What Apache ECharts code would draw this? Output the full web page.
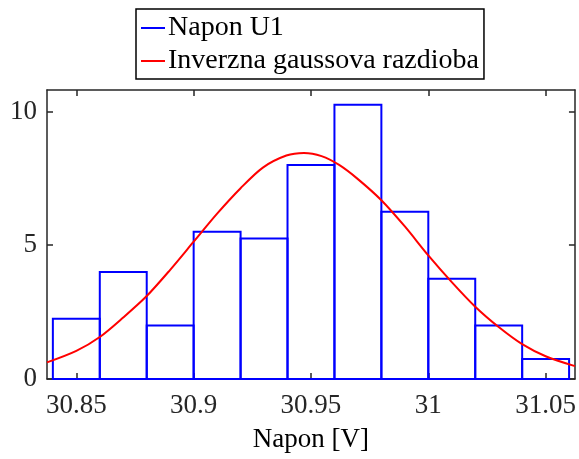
<!DOCTYPE html>
<html>
<head>
<meta charset="utf-8">
<script src="https://cdn.jsdelivr.net/npm/echarts@6/dist/echarts.min.js"></script>
<style>
html,body{margin:0;padding:0;background:#fff;}
#chart{width:579px;height:459px;}
</style>
</head>
<body>
<div id="chart"></div>
<script>
// Histogram bin edges (V) and normalized heights (pdf)
const binEdges = [30.84, 30.86, 30.88, 30.90, 30.92, 30.94, 30.96, 30.98, 31.00, 31.02, 31.04, 31.06];
const binHeights = [2.25, 4.0, 2.0, 5.5, 5.25, 8.0, 10.25, 6.25, 3.75, 2.0, 0.75];

// Fitted inverse gaussian curve
const curveX = [30.8375, 30.85, 30.86, 30.87, 30.88, 30.89, 30.90, 30.91, 30.92, 30.9295, 30.9395, 30.947, 30.9545, 30.962, 30.97, 30.98, 30.99, 31.00, 31.01, 31.02, 31.03, 31.04, 31.05, 31.0625];
const curveY = [0.62, 1.05, 1.57, 2.3, 3.1, 4.08, 5.13, 6.18, 7.13, 7.9, 8.35, 8.45, 8.33, 8.0, 7.47, 6.68, 5.7, 4.62, 3.62, 2.7, 1.94, 1.3, 0.85, 0.48];

const xTicks = [30.85, 30.9, 30.95, 31, 31.05];
const yTicks = [0, 5, 10];
const seriesNames = ['Napon U1', 'Inverzna gaussova razdioba'];
const xLabel = 'Napon [V]';

const FONT = "'Liberation Serif', 'Times New Roman', serif";
const AX = '#262626';

const histData = binHeights.map((h, i) => [binEdges[i], binEdges[i + 1], h]);
const curveData = curveX.map((x, i) => [x, curveY[i]]);

const chart = echarts.init(document.getElementById('chart'), null, {renderer: 'canvas'});

const axisLineStyle = {show: true, onZero: false, lineStyle: {color: AX, width: 1.5}};
const tickStyle = (vals) => ({show: true, inside: true, length: 6, customValues: vals, lineStyle: {color: AX, width: 1.5}});

chart.setOption({
  animation: false,
  backgroundColor: '#fff',
  grid: {left: 47, right: 4, top: 90, bottom: 80, containLabel: false},
  legend: {
    orient: 'vertical',
    left: 136,
    top: 9,
    padding: [4, 5, 3, 5],
    itemGap: 3,
    itemWidth: 24,
    itemHeight: 2,
    borderColor: '#000',
    borderWidth: 1.5,
    backgroundColor: '#fff',
    textStyle: {fontFamily: FONT, fontSize: 28, color: '#000', lineHeight: 30, padding: [0, 0, 0, -2]},
    data: [
      {name: seriesNames[0], icon: 'rect', itemStyle: {color: '#0000ff', borderWidth: 0}},
      {name: seriesNames[1], icon: 'rect', itemStyle: {color: '#ff0000', borderWidth: 0}}
    ]
  },
  xAxis: [
    {
      type: 'value', min: 30.8375, max: 31.0625, position: 'bottom',
      name: xLabel, nameLocation: 'middle', nameGap: 47,
      nameTextStyle: {fontFamily: FONT, fontSize: 27, color: '#000'},
      axisLine: axisLineStyle,
      axisTick: tickStyle(xTicks),
      axisLabel: {show: true, customValues: xTicks, margin: 13, fontFamily: FONT, fontSize: 27, color: '#262626', formatter: v => String(v)},
      splitLine: {show: false}
    },
    {
      type: 'value', min: 30.8375, max: 31.0625, position: 'top',
      axisLine: axisLineStyle,
      axisTick: tickStyle(xTicks),
      axisLabel: {show: false},
      splitLine: {show: false}
    }
  ],
  yAxis: [
    {
      type: 'value', min: 0, max: 10.8, position: 'left',
      axisLine: axisLineStyle,
      axisTick: tickStyle(yTicks),
      axisLabel: {show: true, customValues: yTicks, margin: 10, fontFamily: FONT, fontSize: 27, color: '#262626'},
      splitLine: {show: false}
    },
    {
      type: 'value', min: 0, max: 10.8, position: 'right',
      axisLine: axisLineStyle,
      axisTick: tickStyle(yTicks),
      axisLabel: {show: false},
      splitLine: {show: false}
    }
  ],
  series: [
    {
      name: seriesNames[0],
      type: 'custom',
      xAxisIndex: 0, yAxisIndex: 0,
      encode: {x: [0, 1], y: 2},
      data: histData,
      renderItem: function (params, api) {
        const p0 = api.coord([api.value(0), 0]);
        const p1 = api.coord([api.value(1), api.value(2)]);
        return {
          type: 'rect',
          shape: {x: p0[0], y: p1[1], width: p1[0] - p0[0], height: p0[1] - p1[1]},
          style: {fill: 'none', stroke: '#0000ff', lineWidth: 2}
        };
      },
      z: 2
    },
    {
      name: seriesNames[1],
      type: 'line',
      xAxisIndex: 0, yAxisIndex: 0,
      data: curveData,
      smooth: 0.3,
      showSymbol: false,
      lineStyle: {color: '#ff0000', width: 2},
      itemStyle: {color: '#ff0000'},
      z: 3
    }
  ]
});
</script>
</body>
</html>
